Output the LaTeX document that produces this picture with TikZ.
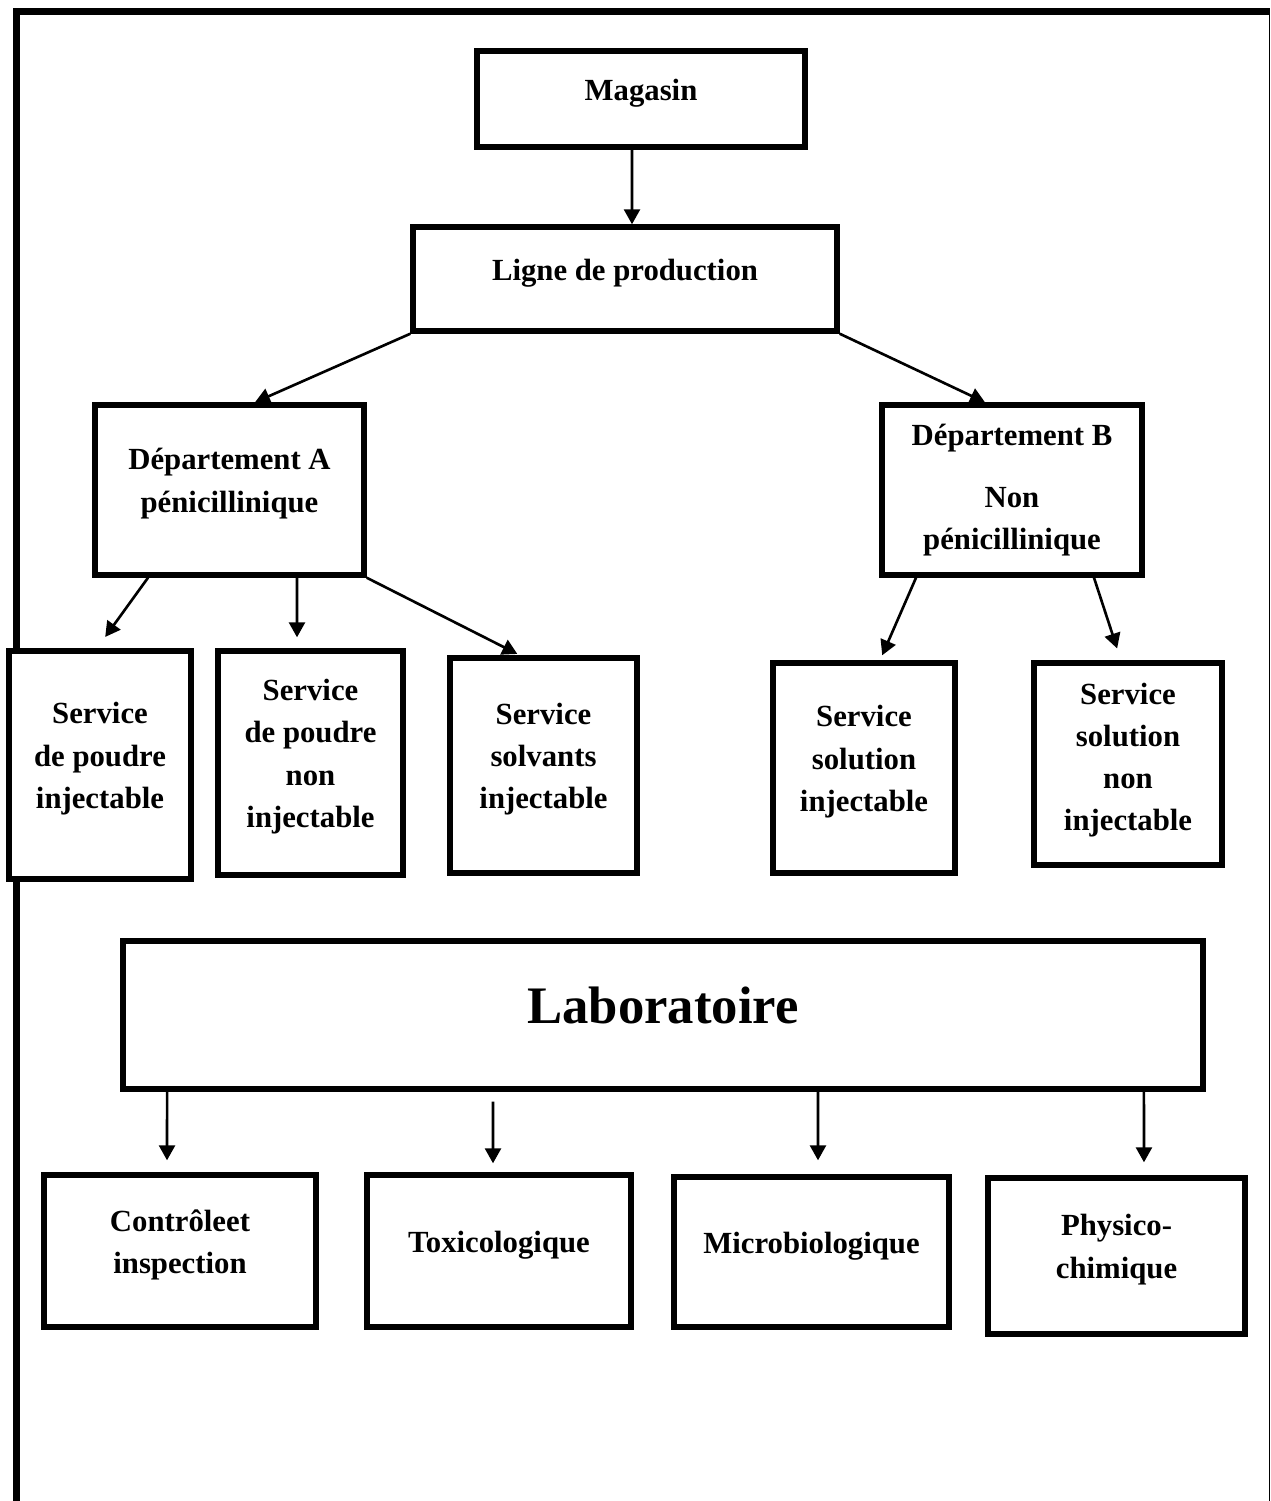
\documentclass[tikz,border=0pt]{standalone}
\usepackage{fontspec}
\setmainfont{Liberation Serif}
\usetikzlibrary{arrows.meta, positioning}
\tikzset{
  box/.style={rectangle, draw=black, line width=3.1pt, fill=white, align=center,
    font=\fontsize{17.5}{24}\selectfont\bfseries, inner sep=2pt, text depth=11pt},
  arrow/.style={-{Triangle[length=0.3cm, width=0.32cm]}, line width=1.5pt}
}

\begin{document}
\begin{tikzpicture}[x=0.02cm, y=-0.02cm]
\useasboundingbox (0,0) rectangle (1271,1501);

% frame
\draw[line width=3.6pt] (16.5,1501) -- (16.5,11.5) -- (1269.5,11.5);
\draw[line width=1pt] (1269.5,11.5) -- (1269.5,1501);

% top
\node[box, minimum width=6.56cm, minimum height=1.92cm] (magasin) at (641,99) {Magasin};
\node[box, minimum width=8.48cm, minimum height=2.08cm] (ligne) at (625,279) {Ligne de production};

% departments
\node[box, minimum width=5.38cm, minimum height=3.4cm] (depA) at (229.5,490) {Département A\\pénicillinique};
\node[box, minimum width=5.2cm, minimum height=3.4cm, text depth=3.8pt] (depB) at (1012,490) {Département B\\[11pt]Non\\pénicillinique};

% services
\node[box, minimum width=3.64cm, minimum height=4.56cm] (sA1) at (100,765) {Service\\de poudre\\injectable};
\node[box, minimum width=3.7cm, minimum height=4.48cm] (sA2) at (310.5,763) {Service\\de poudre\\non\\injectable};
\node[box, minimum width=3.74cm, minimum height=4.3cm] (sA3) at (543.5,765.5) {Service\\solvants\\injectable};
\node[box, minimum width=3.64cm, minimum height=4.2cm] (sB1) at (864,768) {Service\\solution\\injectable};
\node[box, minimum width=3.76cm, minimum height=4.04cm, text depth=8pt] (sB2) at (1128,764) {Service\\solution\\non\\injectable};

% laboratory
\node[box, minimum width=21.6cm, minimum height=2.96cm, font=\fontsize{30}{36}\selectfont\bfseries, text depth=11.4pt] (labo) at (663,1015) {Laboratoire};
\node[box, minimum width=5.44cm, minimum height=3.04cm] (c1) at (180,1251) {Contrôleet\\inspection};
\node[box, minimum width=5.28cm, minimum height=3.04cm] (c2) at (499,1251) {Toxicologique};
\node[box, minimum width=5.5cm, minimum height=3cm] (c3) at (811.5,1252) {Microbiologique};
\node[box, minimum width=5.14cm, minimum height=3.12cm] (c4) at (1116.5,1256) {Physico-\\chimique};

% arrows
\draw[arrow] ([xshift=-0.18cm]magasin.south) -- ([xshift=0.14cm]ligne.north);
\draw[arrow] (ligne.south west) -- ([xshift=0.51cm]depA.north);
\draw[arrow] (ligne.south east) -- ([xshift=-0.54cm]depB.north);

\draw[arrow, shorten >=0.28cm] ([xshift=-1.63cm]depA.south) -- ([xshift=-0.06cm]sA1.north);
\draw[arrow, shorten >=0.22cm] ([xshift=1.35cm]depA.south) -- ([xshift=-0.27cm]sA2.north);
\draw[arrow, shorten >=0.06cm] (depA.south east) -- ([xshift=-0.47cm]sA3.north);
\draw[arrow, shorten >=0.11cm] ([xshift=-1.92cm]depB.south) -- ([xshift=0.32cm]sB1.north);
\draw[arrow, shorten >=0.25cm] ([xshift=1.64cm]depB.south) -- ([xshift=-0.14cm]sB2.north);

\draw[arrow, shorten >=0.24cm] ([xshift=-9.92cm]labo.south) -- ([xshift=-0.26cm]c1.north);
\draw[arrow, shorten <=0.2cm, shorten >=0.18cm] ([xshift=-3.4cm]labo.south) -- ([xshift=-0.12cm]c2.north);
\draw[arrow, shorten >=0.28cm] ([xshift=3.1cm]labo.south) -- ([xshift=0.13cm]c3.north);
\draw[arrow, shorten >=0.26cm] ([xshift=9.62cm]labo.south) -- ([xshift=0.55cm]c4.north);

\end{tikzpicture}
\end{document}
